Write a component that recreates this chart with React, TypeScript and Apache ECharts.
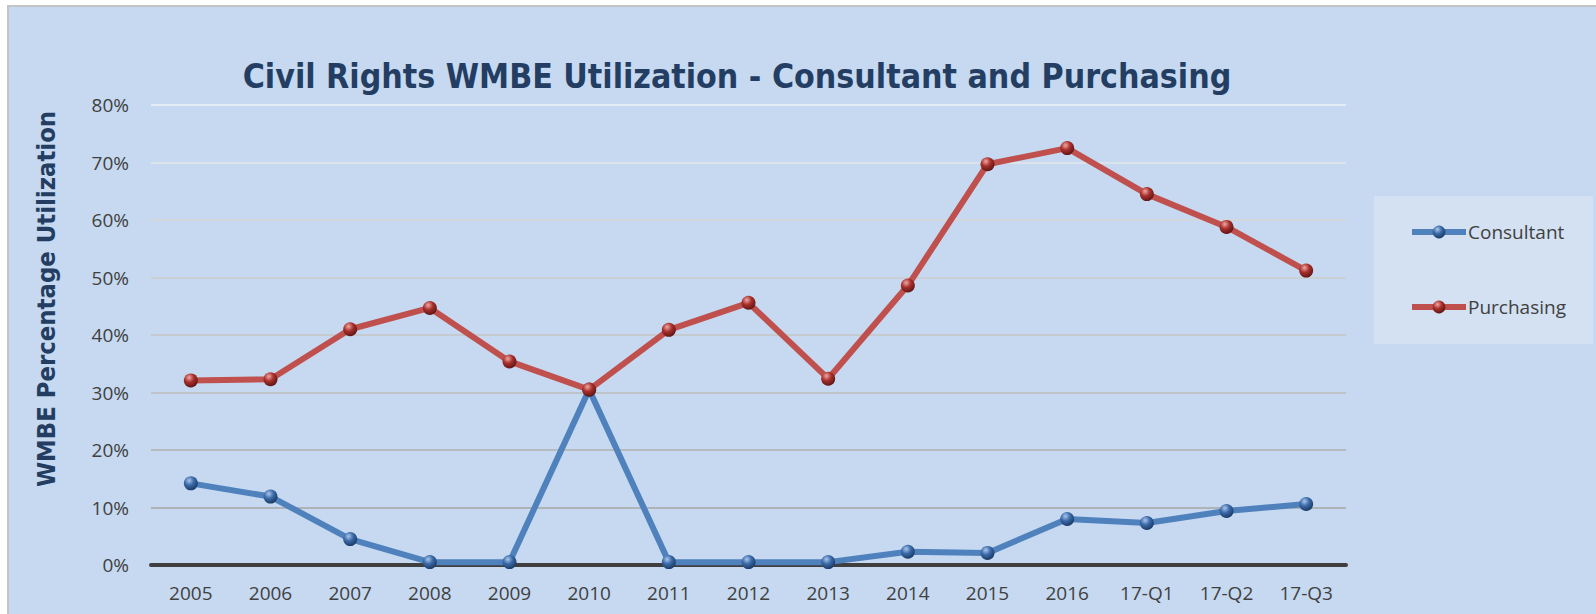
import React, { useEffect, useRef } from "react";
import * as echarts from "echarts";

const categories = ["2005", "2006", "2007", "2008", "2009", "2010", "2011", "2012", "2013", "2014", "2015", "2016", "17-Q1", "17-Q2", "17-Q3"];
const consultant = [14.2, 11.9, 4.5, 0.5, 0.5, 30.5, 0.5, 0.5, 0.5, 2.3, 2.1, 8.0, 7.3, 9.4, 10.6];
const purchasing = [32.1, 32.3, 41.0, 44.7, 35.4, 30.5, 40.9, 45.6, 32.4, 48.6, 69.7, 72.5, 64.5, 58.8, 51.2];
const titleText = "Civil Rights WMBE Utilization - Consultant and Purchasing";
const yAxisTitle = "WMBE Percentage Utilization";
const gridColors = ["#a0a0a0", "#a6a6a6", "#b0b0b0", "#bbbbbb", "#c4c4c4", "#cdcdcd", "#d6d6d6", "#e2e6ea", "#eef3f9"];

const sphere = (light: string, mid: string, dark: string) =>
  new echarts.graphic.RadialGradient(0.38, 0.3, 0.75, [
    { offset: 0, color: light },
    { offset: 0.45, color: mid },
    { offset: 1, color: dark },
  ]);

export default function App() {
  const ref = useRef<HTMLDivElement>(null);
  useEffect(() => {
    const chart = echarts.init(ref.current!, undefined, { renderer: "svg" });
    const blue = "#4f81bd";
    const red = "#c0504d";
    chart.setOption({
      animation: false,
      backgroundColor: "#ffffff",
      graphic: [
        {
          type: "rect",
          z: -10,
          silent: true,
          shape: { x: 8, y: 6, width: 1600, height: 620 },
          style: { fill: "#c6d9f0", stroke: "#c4c4c4", lineWidth: 2 },
        },
        {
          type: "rect",
          z: -9,
          silent: true,
          shape: { x: 1374, y: 196, width: 219, height: 148 },
          style: { fill: "#d3e1f3" },
        },
        {
          type: "text",
          x: 737,
          y: 76,
          style: {
            text: titleText,
            align: "center",
            verticalAlign: "middle",
            textAlign: "center",
            textVerticalAlign: "middle",
            fontFamily: "DejaVu Sans Condensed",
            fontWeight: "bold",
            fontSize: 33.6,
            fill: "#233e62",
          },
        },
        {
          type: "text",
          x: 46,
          y: 299,
          rotation: Math.PI / 2,
          style: {
            text: yAxisTitle,
            align: "center",
            verticalAlign: "middle",
            textAlign: "center",
            textVerticalAlign: "middle",
            fontFamily: "DejaVu Sans Condensed",
            fontWeight: "bold",
            fontSize: 25.4,
            fill: "#233e62",
          },
        },
      ],
      legend: {
        orient: "vertical",
        left: 1404,
        top: 216,
        itemWidth: 54,
        itemHeight: 16,
        itemGap: 53,
        lineStyle: { width: 6 },
        textStyle: { fontFamily: "Open Sans", fontSize: 19, color: "#404040", lineHeight: 22, padding: [0, 0, 0, -3] },
        data: ["Consultant", "Purchasing"],
      },
      grid: { left: 151, right: 250, top: 105, bottom: 49 },
      xAxis: {
        type: "category",
        data: categories,
        axisLine: { lineStyle: { color: "#3f3f3f", width: 4 } },
        axisTick: { show: false },
        axisLabel: { fontFamily: "Open Sans", fontSize: 19, color: "#404040", margin: 18 },
      },
      yAxis: {
        type: "value",
        min: 0,
        max: 80,
        interval: 10,
        axisLine: { show: false },
        axisTick: { show: false },
        axisLabel: { formatter: "{value}%", fontFamily: "Open Sans", fontSize: 19, color: "#404040", margin: 22 },
        splitLine: { lineStyle: { color: gridColors, width: 1.5 } },
      },
      series: [
        {
          name: "Consultant",
          type: "line",
          data: consultant,
          symbol: "circle",
          symbolSize: 14,
          lineStyle: { color: blue, width: 6 },
          itemStyle: { color: sphere("#a9c6ec", "#3b6aa8", "#17355e") },
          z: 3,
        },
        {
          name: "Purchasing",
          type: "line",
          data: purchasing,
          symbol: "circle",
          symbolSize: 14,
          lineStyle: { color: red, width: 6 },
          itemStyle: { color: sphere("#f0a8a4", "#a8302c", "#581212") },
          z: 4,
        },
      ],
    });
    return () => chart.dispose();
  }, []);
  return <div ref={ref} style={{ position: "fixed", left: 0, top: 0, width: 1596, height: 614 }} />;
}
